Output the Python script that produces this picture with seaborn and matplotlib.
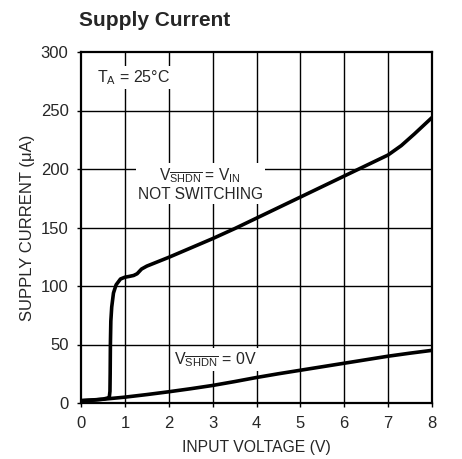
import numpy as np
import pandas as pd
import seaborn as sns
import matplotlib
matplotlib.use("Agg")
import matplotlib.pyplot as plt

# curve: VSHDN = VIN, not switching
vin_on = [0, 0.3, 0.5, 0.6, 0.645, 0.66, 0.665, 0.67, 0.68, 0.7, 0.74, 0.8, 0.9, 1.0,
          1.1, 1.2, 1.28, 1.33, 1.38, 1.5, 2, 2.5, 3, 3.5, 4, 4.5, 5, 5.5, 6, 6.5, 7, 7.3, 7.6, 8]
isup_on = [2, 2.5, 3.3, 4.2, 5, 10, 25, 50, 70, 82, 94, 101, 106, 107.5,
           108.2, 109, 110.5, 112.5, 114.5, 117, 124.5, 132.5, 140.5, 149, 158, 167, 176, 185, 194, 203, 212, 220, 230, 244]

# curve: VSHDN = 0V
vin_off = [0, 0.5, 1, 1.5, 2, 2.5, 3, 3.5, 4, 4.5, 5, 5.5, 6, 6.5, 7, 7.5, 8]
isup_off = [2, 3.2, 5, 7.2, 9.6, 12.2, 15, 18.3, 21.8, 25, 28, 31, 34, 37, 40, 42.6, 45]

x_ticks = [0, 1, 2, 3, 4, 5, 6, 7, 8]
y_ticks = [0, 50, 100, 150, 200, 250, 300]

df = pd.concat([
    pd.DataFrame({"vin": vin_on, "isup": isup_on, "mode": "on"}),
    pd.DataFrame({"vin": vin_off, "isup": isup_off, "mode": "off"}),
])

sns.set_style("white")
fam = "Liberation Sans"
plt.rcParams["font.family"] = [fam, "DejaVu Sans"]
plt.rcParams["mathtext.fontset"] = "custom"
plt.rcParams["mathtext.rm"] = fam
plt.rcParams["mathtext.it"] = fam
plt.rcParams["mathtext.bf"] = fam + ":bold"

fig = plt.figure(figsize=(4.62, 4.59), dpi=100)
ax = fig.add_axes([81 / 462, 56 / 459, 351 / 462, 351 / 459])

for xv in x_ticks[1:-1]:
    ax.axvline(xv, color="black", lw=1.0, zorder=1)
for yv in y_ticks[1:-1]:
    ax.axhline(yv, color="black", lw=1.0, zorder=1)

sns.lineplot(data=df, x="vin", y="isup", units="mode", estimator=None, sort=False,
             color="black", lw=2.6, ax=ax, zorder=5)

ax.set_xlim(0, 8)
ax.set_ylim(0, 300)
ax.set_xticks(x_ticks)
ax.set_yticks(y_ticks)
ax.tick_params(direction="out", length=3, width=1, color="black", labelsize=12,
               left=True, bottom=True)
ax.tick_params(axis="x", pad=6)
ax.tick_params(axis="y", pad=6)
for s in ax.spines.values():
    s.set_color("black")
    s.set_linewidth(1.6)

ax.set_xlabel("INPUT VOLTAGE (V)", fontsize=11.3, labelpad=7)
ax.set_ylabel("SUPPLY CURRENT (\u03bcA)", fontsize=12, labelpad=4)

box = dict(facecolor="white", edgecolor="none", pad=1.5)
ax.text(0.36, 278, r"T$_\mathrm{A}$ = 25" + "\u00b0C", fontsize=11.5, ha="left",
        va="center", bbox=box, zorder=4)
ax.text(2.72, 187, r"V$_{\overline{\mathrm{SHDN}}}$ = V$_\mathrm{IN}$" + "\nNOT SWITCHING",
        fontsize=11.2, ha="center", va="center", linespacing=1.15, bbox=box, zorder=4)
ax.text(2.12, 37, r"V$_{\overline{\mathrm{SHDN}}}$ = 0V", fontsize=11.5, ha="left",
        va="center", bbox=box, zorder=4)

fig.text(79 / 462, 1 - 20 / 459, "Supply Current", fontsize=15, fontweight="bold",
         ha="left", va="center")

fig.savefig("out.png", dpi=100)
